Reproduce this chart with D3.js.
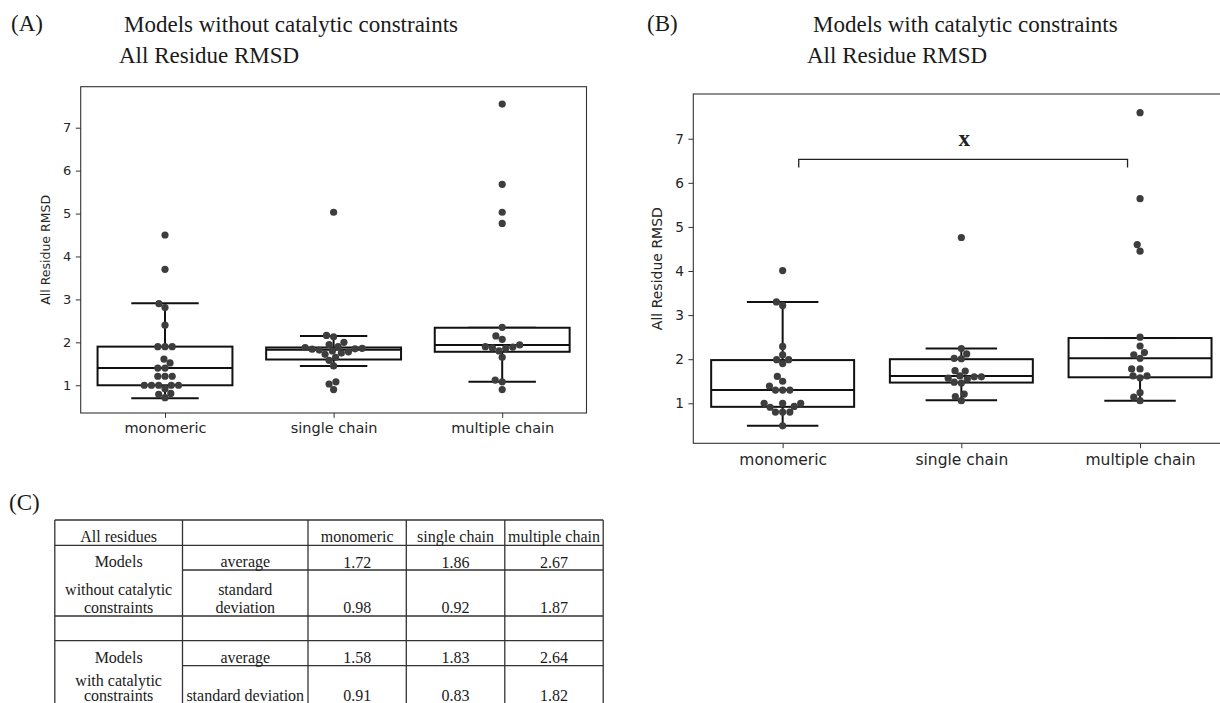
<!DOCTYPE html>
<html>
<head>
<meta charset="utf-8">
<script src="https://cdn.jsdelivr.net/npm/d3@7"></script>
<style>
  body { margin: 0; background: #fff; }
  svg { display: block; }
</style>
</head>
<body>
<script>
// All residue RMSD, models without (A) and with (B) catalytic constraints

var categories = ["monomeric", "single chain", "multiple chain"];
var yTicks = [1, 2, 3, 4, 5, 6, 7];

// points
var rmsdNoCat = [
  [4.50, 3.70, 2.90, 2.81, 2.40, 1.90, 1.90, 1.90, 1.61, 1.52, 1.40, 1.40, 1.21, 1.21, 1.21,
   1.00, 1.00, 1.00, 1.00, 1.00, 0.92, 0.81, 0.79, 0.71],
  [5.03, 2.16, 2.13, 2.00, 1.95, 1.90, 1.88, 1.86, 1.85, 1.84, 1.82, 1.80, 1.78, 1.75, 1.72,
   1.65, 1.58, 1.45, 1.08, 1.03, 0.90],
  [7.55, 5.68, 5.03, 4.77, 2.35, 2.15, 2.07, 1.94, 1.90, 1.89, 1.87, 1.86, 1.80, 1.65, 1.12,
   1.08, 0.90]
];
var rmsdCat = [
  [4.01, 3.30, 3.22, 2.29, 2.10, 1.99, 1.99, 1.90, 1.61, 1.50, 1.39, 1.30, 1.30, 1.30, 1.00,
   1.00, 1.00, 0.93, 0.91, 0.80, 0.80, 0.80, 0.49],
  [4.76, 2.24, 2.12, 2.02, 2.01, 1.74, 1.73, 1.62, 1.60, 1.60, 1.57, 1.55, 1.48, 1.46, 1.21,
   1.15, 1.06],
  [7.59, 5.64, 4.60, 4.45, 2.50, 2.30, 2.15, 2.10, 2.02, 1.78, 1.78, 1.62, 1.62, 1.58, 1.24,
   1.14, 1.06]
];

// box stats [low whisker, q1, median, q3, high whisker]
var boxNoCat = [
  [0.70, 1.00, 1.40, 1.90, 2.91],
  [1.45, 1.60, 1.83, 1.88, 2.15],
  [1.08, 1.78, 1.94, 2.34, 2.34]
];
var boxCat = [
  [0.49, 0.92, 1.30, 1.98, 3.30],
  [1.07, 1.47, 1.62, 2.00, 2.24],
  [1.06, 1.59, 2.02, 2.48, 2.48]
];

// significance bracket in panel B
var bracketX = [0.09, 1.93];
var bracketY = [6.35, 6.53];
var bracketLabel = "x";

// table (C)
var tableHeader = ["All residues", "", "monomeric", "single chain", "multiple chain"];
var avgNoCat = ["1.72", "1.86", "2.67"];
var sdNoCat = ["0.98", "0.92", "1.87"];
var avgCat = ["1.58", "1.83", "2.64"];
var sdCat = ["0.91", "0.83", "1.82"];

var serif = "'Liberation Serif', 'Times New Roman', serif";
var sans = "'DejaVu Sans', sans-serif";

var svg = d3.select("body").append("svg")
    .attr("width", 1220)
    .attr("height", 703);

svg.append("rect").attr("width", 1220).attr("height", 703).attr("fill", "#fff");

// simple beeswarm: place sorted points at the nearest free offset
function swarm(values, y, d) {
  var placed = [];
  values.slice().sort(function(a, b) { return a - b; }).forEach(function(v) {
    var py = y(v);
    var cands = [0];
    placed.forEach(function(p) {
      var dy = Math.abs(p.y - py);
      if (dy < d) {
        var dx = Math.sqrt(d * d - dy * dy);
        cands.push(p.x + dx, p.x - dx);
      }
    });
    cands.sort(function(a, b) { return Math.abs(a) - Math.abs(b) || a - b; });
    var x = cands.find(function(c) {
      return placed.every(function(p) {
        return Math.hypot(p.x - c, p.y - py) >= d - 0.01;
      });
    });
    placed.push({x: x, y: py, v: v});
  });
  return placed;
}

function panel(opt) {
  var x = d3.scaleLinear().domain([-0.5, 2.5]).range([opt.left, opt.right]);
  var y = d3.scaleLinear().domain(opt.yDomain).range([opt.bottom, opt.top]);
  var band = x(1) - x(0);
  var g = svg.append("g");

  // boxes
  opt.box.forEach(function(b, i) {
    var cx = x(i), hw = band * 0.4, cw = band * 0.2;
    var bg = g.append("g").attr("stroke", "#111").attr("stroke-width", 2).attr("fill", "none");
    bg.append("line").attr("x1", cx).attr("x2", cx).attr("y1", y(b[3])).attr("y2", y(b[4]));
    bg.append("line").attr("x1", cx).attr("x2", cx).attr("y1", y(b[1])).attr("y2", y(b[0]));
    bg.append("line").attr("x1", cx - cw).attr("x2", cx + cw).attr("y1", y(b[4])).attr("y2", y(b[4]));
    bg.append("line").attr("x1", cx - cw).attr("x2", cx + cw).attr("y1", y(b[0])).attr("y2", y(b[0]));
    bg.append("rect")
        .attr("x", cx - hw).attr("width", hw * 2)
        .attr("y", y(b[3])).attr("height", y(b[1]) - y(b[3]))
        .attr("fill", "#fff");
    bg.append("line").attr("x1", cx - hw).attr("x2", cx + hw).attr("y1", y(b[2])).attr("y2", y(b[2]));
  });

  // swarm points
  opt.data.forEach(function(vals, i) {
    g.selectAll(".dot" + i)
        .data(swarm(vals, y, 7.2))
        .enter()
      .append("circle")
        .attr("class", "dot" + i)
        .attr("cx", function(d) { return x(i) + d.x; })
        .attr("cy", function(d) { return d.y; })
        .attr("r", 3.6)
        .attr("fill", "#3d3d3d");
  });

  // frame
  g.append("rect")
      .attr("x", opt.left).attr("y", opt.top)
      .attr("width", opt.right - opt.left).attr("height", opt.bottom - opt.top)
      .attr("fill", "none").attr("stroke", "#333").attr("stroke-width", 1.1);

  var yAxis = g.append("g")
      .attr("transform", "translate(" + opt.left + ",0)")
      .call(d3.axisLeft(y).tickValues(yTicks).tickSize(4.9).tickPadding(4.5).tickFormat(d3.format("d")));
  yAxis.select(".domain").remove();
  yAxis.selectAll("line").attr("stroke", "#333");
  yAxis.selectAll("text").attr("font-family", sans).attr("font-size", opt.yTickSize).attr("fill", "#262626");

  var xAxis = g.append("g")
      .attr("transform", "translate(0," + opt.bottom + ")")
      .call(d3.axisBottom(x).tickValues([0, 1, 2]).tickSize(4.9).tickPadding(opt.xPad)
        .tickFormat(function(d) { return categories[d]; }));
  xAxis.select(".domain").remove();
  xAxis.selectAll("line").attr("stroke", "#333");
  xAxis.selectAll("text").attr("font-family", sans).attr("font-size", opt.xTickSize).attr("fill", "#262626");

  g.append("text")
      .attr("transform", "translate(" + opt.labelX + "," + (opt.top + opt.bottom) / 2 + ") rotate(-90)")
      .attr("text-anchor", "middle")
      .attr("dominant-baseline", "central")
      .attr("font-family", sans)
      .attr("font-size", opt.labelSize)
      .attr("fill", "#262626")
      .text("All Residue RMSD");

  return {x: x, y: y, g: g};
}

panel({
  left: 80.7, right: 586.5, top: 86.7, bottom: 413,
  yDomain: [0.354, 7.955],
  data: rmsdNoCat, box: boxNoCat,
  yTickSize: 13, xTickSize: 14.5, xPad: 5, labelSize: 12.5, labelX: 45.7
});

var pB = panel({
  left: 693.3, right: 1229.4, top: 94, bottom: 443.3,
  yDomain: [0.093, 8.014],
  data: rmsdCat, box: boxCat,
  yTickSize: 13.7, xTickSize: 15.5, xPad: 6, labelSize: 14, labelX: 656.6
});

// bracket
pB.g.append("path")
    .attr("d", d3.line()([
      [pB.x(bracketX[0]), pB.y(bracketY[0])],
      [pB.x(bracketX[0]), pB.y(bracketY[1])],
      [pB.x(bracketX[1]), pB.y(bracketY[1])],
      [pB.x(bracketX[1]), pB.y(bracketY[0])]
    ]))
    .attr("fill", "none").attr("stroke", "#222").attr("stroke-width", 1.3);
pB.g.append("text")
    .attr("x", pB.x((bracketX[0] + bracketX[1]) / 2) + 1)
    .attr("y", pB.y(bracketY[1]) - 13.6)
    .attr("text-anchor", "middle")
    .attr("font-family", serif).attr("font-weight", "bold").attr("font-size", 23)
    .attr("fill", "#222")
    .text(bracketLabel);

// titles
function serifText(x, y, s, size) {
  svg.append("text").attr("x", x).attr("y", y)
      .attr("font-family", serif).attr("font-size", size || 23).attr("fill", "#1a1a1a")
      .text(s);
}
serifText(11, 31, "(A)");
serifText(124, 31.5, "Models without catalytic constraints");
serifText(119, 63, "All Residue RMSD");
serifText(647, 31, "(B)");
serifText(813, 31.5, "Models with catalytic constraints");
serifText(807, 63, "All Residue RMSD");
serifText(9, 510, "(C)");

// table (C)
var colX = [54.8, 182.5, 308, 406.3, 504.8, 603.2];
var rowY = [520, 545.3, 570, 616, 640.7, 665.7, 712];
var colMid = d3.pairs(colX).map(function(p) { return (p[0] + p[1]) / 2; });
var tg = svg.append("g");

// horizontal rules (some only span the right-hand columns)
var hRules = [
  [0, 0], [1, 0], [2, 1], [3, 0], [4, 0], [5, 1], [6, 0]
];
hRules.forEach(function(r) {
  tg.append("line")
      .attr("x1", colX[r[1]]).attr("x2", colX[5])
      .attr("y1", rowY[r[0]]).attr("y2", rowY[r[0]])
      .attr("stroke", "#333").attr("stroke-width", 1.3);
});
colX.forEach(function(cx) {
  tg.append("line")
      .attr("x1", cx).attr("x2", cx)
      .attr("y1", rowY[0]).attr("y2", rowY[6])
      .attr("stroke", "#333").attr("stroke-width", 1.3);
});

function cell(col, y, s) {
  tg.append("text")
      .attr("x", colMid[col]).attr("y", y)
      .attr("text-anchor", "middle")
      .attr("font-family", serif).attr("font-size", 16).attr("fill", "#1a1a1a")
      .text(s);
}

tableHeader.forEach(function(s, i) { cell(i, 541.7, s); });

cell(0, 567, "Models");
cell(1, 567, "average");
avgNoCat.forEach(function(s, i) { cell(i + 2, 567.5, s); });
cell(0, 594.5, "without catalytic");
cell(0, 613.3, "constraints");
cell(1, 594.5, "standard");
cell(1, 613.3, "deviation");
sdNoCat.forEach(function(s, i) { cell(i + 2, 613.3, s); });

cell(0, 663.3, "Models");
cell(1, 663.3, "average");
avgCat.forEach(function(s, i) { cell(i + 2, 663.3, s); });
cell(0, 685.5, "with catalytic");
cell(0, 701, "constraints");
cell(1, 701, "standard deviation");
sdCat.forEach(function(s, i) { cell(i + 2, 701, s); });
</script>
</body>
</html>
